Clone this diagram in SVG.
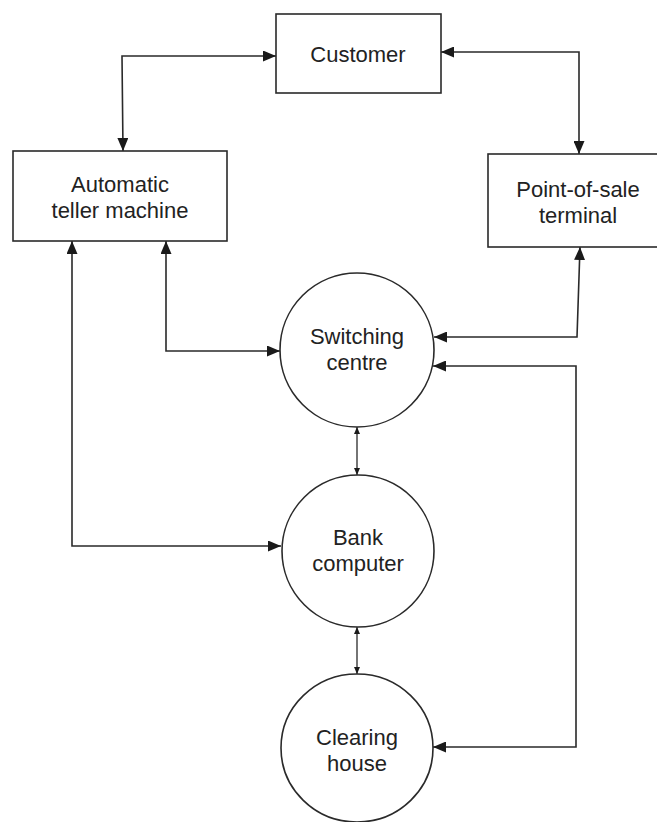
<svg xmlns="http://www.w3.org/2000/svg" width="657" height="822" viewBox="0 0 657 822">
  <style>
    .box { fill: #fff; stroke: #2a2a2a; stroke-width: 1.6; }
    .lbl { font-family: "Liberation Sans", Arial, sans-serif; font-size: 22px; fill: #222; text-anchor: middle; }
    .link { fill: none; stroke: #2a2a2a; stroke-width: 1.6; }
    .big { marker-start: url(#head); marker-end: url(#head); }
    .small { stroke-width: 1.3; marker-start: url(#tip); marker-end: url(#tip); }
  </style>
  <defs>
    <marker id="head" viewBox="0 0 13 11" refX="13" refY="5.5" markerWidth="13" markerHeight="11" markerUnits="userSpaceOnUse" orient="auto-start-reverse">
      <path d="M0,0 L13,5.5 L0,11 z" fill="#1a1a1a"/>
    </marker>
    <marker id="tip" viewBox="0 0 7 6" refX="7" refY="3" markerWidth="7" markerHeight="6" markerUnits="userSpaceOnUse" orient="auto-start-reverse">
      <path d="M0,0 L7,3 L0,6 z" fill="#1a1a1a"/>
    </marker>
  </defs>
  <rect width="657" height="822" fill="#fff"/>

  <g id="connectors">
    <path class="link big" d="M123,151 L122,56 H276"/>
    <path class="link big" d="M441,52 H579 V154"/>
    <path class="link big" d="M166,241 V351 H280"/>
    <path class="link big" d="M580,247 L577,337 H434"/>
    <path class="link big" d="M433,366 H576 V747 H433"/>
    <path class="link big" d="M72,241 V546 H281"/>
    <path class="link small" d="M357,427 V475"/>
    <path class="link small" d="M357,627 V674"/>
  </g>

  <g id="customer">
    <rect class="box" x="276" y="14" width="165" height="79"/>
    <text class="lbl" x="358" y="62">Customer</text>
  </g>

  <g id="atm">
    <rect class="box" x="13" y="151" width="214" height="90"/>
    <text class="lbl" x="120" y="192">Automatic</text>
    <text class="lbl" x="120" y="218">teller machine</text>
  </g>

  <g id="pos">
    <rect class="box" x="488" y="154" width="180" height="93"/>
    <text class="lbl" x="578" y="197">Point-of-sale</text>
    <text class="lbl" x="578" y="223">terminal</text>
  </g>

  <g id="switching-centre">
    <circle class="box" cx="357" cy="350" r="77"/>
    <text class="lbl" x="357" y="344">Switching</text>
    <text class="lbl" x="357" y="370">centre</text>
  </g>

  <g id="bank-computer">
    <circle class="box" cx="358" cy="551" r="76"/>
    <text class="lbl" x="358" y="545">Bank</text>
    <text class="lbl" x="358" y="571">computer</text>
  </g>

  <g id="clearing-house">
    <ellipse class="box" cx="357" cy="748" rx="76" ry="74"/>
    <text class="lbl" x="357" y="745">Clearing</text>
    <text class="lbl" x="357" y="771">house</text>
  </g>
</svg>
